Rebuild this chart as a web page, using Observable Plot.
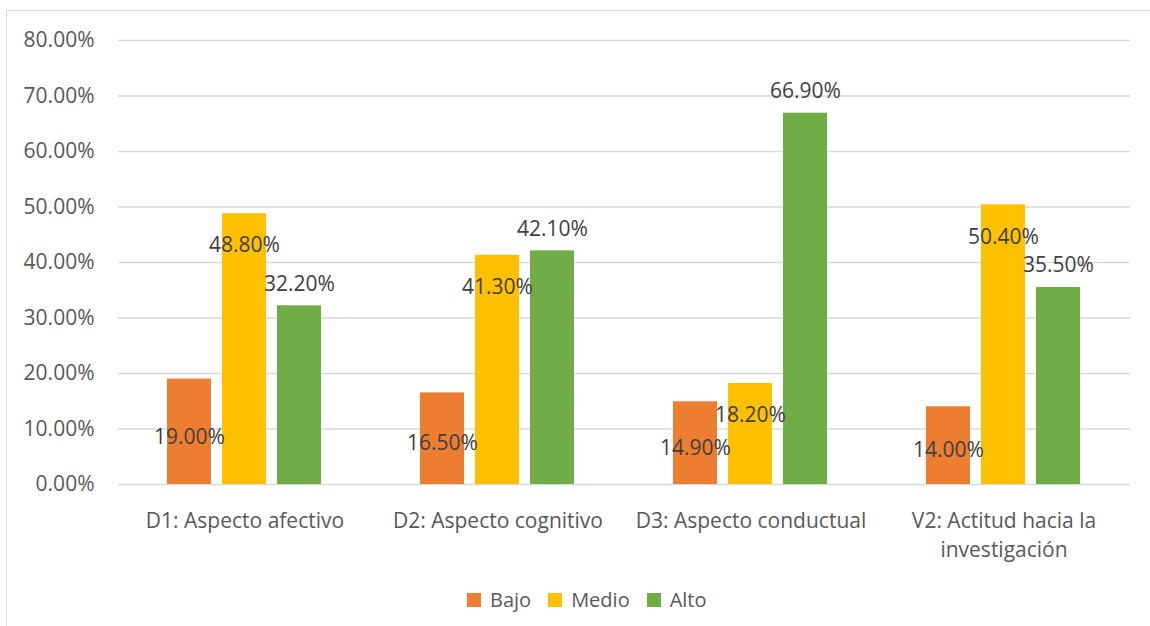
<!DOCTYPE html>
<html>
<head>
<meta charset="utf-8">
<script src="https://cdn.jsdelivr.net/npm/d3@7"></script>
<script src="https://cdn.jsdelivr.net/npm/@observablehq/plot@0.6"></script>
<style>
  html, body { margin: 0; padding: 0; background: #fff; overflow: hidden; }
  #wrap { position: relative; width: 1150px; height: 626px; font-family: "Open Sans", sans-serif; }
  #frame { position: absolute; left: 6px; top: 10px; width: 1170px; height: 660px; border: 1px solid #d9d9d9; box-sizing: border-box; }
  #chart { position: absolute; left: 0; top: 0; }
  #legend { position: absolute; left: 467px; top: 586px; display: flex; align-items: center; font-size: 20px; color: #595959; }
  #legend .item { display: flex; align-items: center; margin-right: 17px; }
  #legend .sw { width: 14px; height: 14px; margin-right: 9px; }
</style>
</head>
<body>
<div id="wrap">
  <div id="frame"></div>
  <div id="chart"></div>
  <div id="legend"></div>
</div>
<script>
const categories = ["D1: Aspecto afectivo", "D2: Aspecto cognitivo", "D3: Aspecto conductual", "V2: Actitud hacia la investigación"];
const series = ["Bajo", "Medio", "Alto"];
const bajo  = [0.190, 0.165, 0.149, 0.140];
const medio = [0.488, 0.413, 0.182, 0.504];
const alto  = [0.322, 0.421, 0.669, 0.355];
const yTicks = [0, 0.1, 0.2, 0.3, 0.4, 0.5, 0.6, 0.7, 0.8];
const colors = ["#ED7D31", "#FFC000", "#70AD47"];

const valuesBySeries = {Bajo: bajo, Medio: medio, Alto: alto};
const data = [];
categories.forEach((c, i) => {
  series.forEach(s => data.push({category: c, series: s, value: valuesBySeries[s][i]}));
});
const pct = d3.format(".2%");

const chart = Plot.plot({
  width: 1150,
  height: 564,
  marginLeft: 118,
  marginRight: 20,
  marginTop: 40,
  marginBottom: 80,
  style: {fontFamily: "Open Sans, sans-serif", fontSize: "21px", color: "#595959", background: "transparent"},
  fx: {domain: categories, padding: 0, label: null},
  x: {domain: series, paddingInner: 0.196, paddingOuter: 0.857, axis: null},
  y: {domain: [0, 0.8], ticks: yTicks, label: null},
  color: {domain: series, range: colors},
  marks: [
    Plot.gridY(yTicks, {stroke: "#d9d9d9", strokeOpacity: 1, strokeWidth: 1.3}),
    Plot.axisY(yTicks, {tickFormat: pct, tickSize: 0, tickPadding: 24, fontSize: 21, fill: "#595959", label: null}),
    Plot.axisFx({anchor: "bottom", tickSize: 0, tickPadding: 24, fontSize: 21, fill: "#595959", lineHeight: 1.34, label: null,
      tickFormat: d => d.replace("hacia la ", "hacia la\n")}),
    Plot.barY(data, {fx: "category", x: "series", y: "value", fill: "series"}),
    Plot.text(data.filter(d => d.series === "Bajo"), {fx: "category", x: "series", y: d => d.value / 2, dy: 5, text: d => pct(d.value), fill: "#404040", fontSize: 21}),
    Plot.text(data.filter(d => d.series === "Medio"), {fx: "category", x: "series", y: "value", dy: 32, text: d => pct(d.value), fill: "#404040", fontSize: 21}),
    Plot.text(data.filter(d => d.series === "Alto"), {fx: "category", x: "series", y: "value", dy: -22, text: d => pct(d.value), fill: "#404040", fontSize: 21})
  ]
});
document.getElementById("chart").appendChild(chart);

const legend = d3.select("#legend");
series.forEach((s, i) => {
  const item = legend.append("div").attr("class", "item");
  item.append("div").attr("class", "sw").style("background", colors[i]);
  item.append("span").text(s);
});
</script>
</body>
</html>
